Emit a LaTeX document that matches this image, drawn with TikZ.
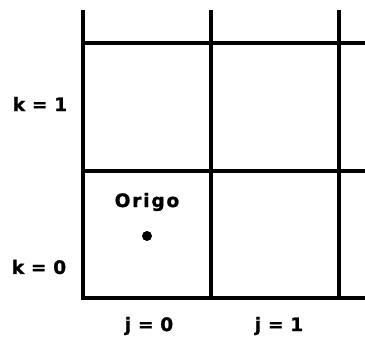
\documentclass[tikz,border=0pt]{standalone}
\usepackage{fontspec}
\newfontfamily\lblfont{DejaVu Sans}[LetterSpace=2, BoldFeatures={FakeBold=1.2}]
\newfontfamily\wlblfont{DejaVu Sans}[LetterSpace=10, BoldFeatures={FakeBold=1.2}]
\usetikzlibrary{positioning}

\begin{document}
\begin{tikzpicture}[
  x=1pt, y=-1pt,
  gridline/.style={line width=3.6pt, black},
  lbl/.style={font=\lblfont\bfseries\fontsize{18.5}{21}\selectfont, inner sep=0pt}
]
\useasboundingbox (0,0) rectangle (365,340);

% Grid
\draw[gridline] (83,10) -- (83,298) -- (365,298);
\foreach \gx in {211,339}
  \draw[gridline] (\gx,10) -- (\gx,298);
\foreach \gy in {43,171}
  \draw[gridline] (83,\gy) -- (365,\gy);

% Origin point
\fill (147,236) circle (5pt);
\node[lbl, font=\wlblfont\bfseries\fontsize{18.5}{21}\selectfont] (origo) at (147,202) {Origo};

% Axis labels
\node[lbl] (k1) at (40,104) {k = 1};
\node[lbl] (k0) at (39,267) {k = 0};
\node[lbl] (j0) at (149,326) {j = 0};
\node[lbl] (j1) at (279,326) {j = 1};

\end{tikzpicture}
\end{document}
